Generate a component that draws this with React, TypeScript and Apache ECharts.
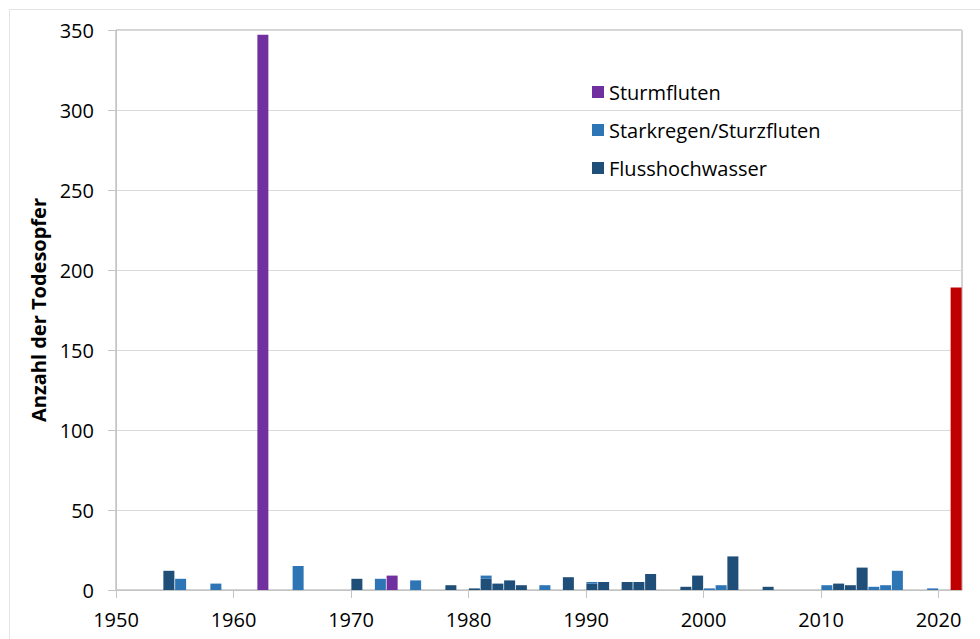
import React, { useEffect, useRef } from "react";
import * as echarts from "echarts";

// Categories (years)
const firstYear = 1950;
const lastYear = 2021;
const years: string[] = [];
for (let y = firstYear; y <= lastYear; y++) years.push(String(y));

// Tick labels on the x axis
const xTickLabels: number[] = [1950, 1960, 1970, 1980, 1990, 2000, 2010, 2020];

// Series values [year, deaths]
const sturmfluten: [number, number][] = [
  [1962, 347],
  [1973, 9],
];

const starkregen: [number, number][] = [
  [1955, 7],
  [1958, 4],
  [1965, 15],
  [1972, 7],
  [1975, 6],
  [1981, 2],
  [1986, 3],
  [1990, 1],
  [2000, 1],
  [2001, 3],
  [2010, 3],
  [2014, 2],
  [2015, 3],
  [2016, 12],
  [2019, 1],
];

const flusshochwasser: [number, number][] = [
  [1954, 12],
  [1970, 7],
  [1978, 3],
  [1980, 1],
  [1981, 7],
  [1982, 4],
  [1983, 6],
  [1984, 3],
  [1988, 8],
  [1990, 4],
  [1991, 5],
  [1993, 5],
  [1994, 5],
  [1995, 10],
  [1998, 2],
  [1999, 9],
  [2002, 21],
  [2005, 2],
  [2011, 4],
  [2012, 3],
  [2013, 14],
];

const juli2021: [number, number][] = [[2021, 189]];

const toSeries = (pairs: [number, number][]) => {
  const m = new Map<string, number>();
  pairs.forEach(([y, v]) => m.set(String(y), v));
  return years.map((y) => (m.has(y) ? m.get(y)! : "-"));
};

const FONT = "'Open Sans', 'Noto Sans', sans-serif";

export default function App() {
  const ref = useRef<HTMLDivElement>(null);

  useEffect(() => {
    document.body.style.margin = "0";
    if (!ref.current) return;
    const chart = echarts.init(ref.current, undefined, { renderer: "svg" });
    const barW = 11;
    chart.setOption({
      animation: false,
      backgroundColor: "#ffffff",
      textStyle: { fontFamily: FONT },
      graphic: [
        {
          type: "rect",
          left: 7,
          top: 7,
          shape: { x: 0.5, y: 0.5, width: 1000, height: 700 },
          style: { fill: "none", stroke: "#e4e4e4", lineWidth: 1 },
          silent: true,
          z: -10,
        },
      ],
      grid: {
        left: 116,
        right: 18,
        top: 30,
        bottom: 49,
        show: true,
        borderColor: "#a6a6a6",
        borderWidth: 1,
      },
      legend: {
        data: ["Sturmfluten", "Starkregen/Sturzfluten", "Flusshochwasser"],
        orient: "vertical",
        left: 587,
        top: 77,
        itemWidth: 12,
        itemHeight: 12,
        itemGap: 18,
        itemTextGap: 8,
        icon: "rect",
        textStyle: { fontSize: 20, color: "#000", fontFamily: FONT },
      },
      xAxis: [
        {
          type: "category",
          data: years,
          position: "bottom",
          boundaryGap: true,
          axisLine: { show: true, lineStyle: { color: "#c4c4c4", width: 1 } },
          axisTick: { show: false },
          axisLabel: { show: false },
          splitLine: { show: false },
        },
        {
          type: "value",
          position: "bottom",
          min: firstYear,
          max: lastYear + 1,
          axisLine: { show: false },
          axisTick: {
            show: true,
            length: 8,
            customValues: xTickLabels,
            lineStyle: { color: "#c4c4c4" },
          },
          axisLabel: {
            show: true,
            customValues: xTickLabels,
            margin: 19,
            fontSize: 20,
            color: "#000",
            fontFamily: FONT,
            formatter: (v: number) => String(v),
          },
          splitLine: { show: false },
        },
      ],
      yAxis: {
        type: "value",
        min: 0,
        max: 350,
        interval: 50,
        name: "Anzahl der Todesopfer",
        nameLocation: "middle",
        nameGap: 65,
        nameTextStyle: {
          fontSize: 20,
          fontWeight: "bold",
          color: "#000",
          fontFamily: FONT,
        },
        axisLine: { show: true, lineStyle: { color: "#c4c4c4" } },
        axisTick: { show: true, length: 8, lineStyle: { color: "#c4c4c4" } },
        axisLabel: { fontSize: 20, color: "#000", margin: 22, fontFamily: FONT },
        splitLine: { show: true, lineStyle: { color: "#d9d9d9", width: 1 } },
      },
      series: [
        {
          name: "Flusshochwasser",
          type: "bar",
          stack: "total",
          xAxisIndex: 0,
          barWidth: barW,
          itemStyle: { color: "#1F4E79" },
          data: toSeries(flusshochwasser),
        },
        {
          name: "Starkregen/Sturzfluten",
          type: "bar",
          stack: "total",
          xAxisIndex: 0,
          barWidth: barW,
          itemStyle: { color: "#2E75B6" },
          data: toSeries(starkregen),
        },
        {
          name: "Sturmfluten",
          type: "bar",
          stack: "total",
          xAxisIndex: 0,
          barWidth: barW,
          itemStyle: { color: "#7030A0" },
          data: toSeries(sturmfluten),
        },
        {
          name: "Juli 2021",
          type: "bar",
          stack: "total",
          xAxisIndex: 0,
          barWidth: barW,
          itemStyle: { color: "#C00000" },
          data: toSeries(juli2021),
        },
      ],
    });
    return () => chart.dispose();
  }, []);

  return <div ref={ref} style={{ width: 980, height: 639 }} />;
}
